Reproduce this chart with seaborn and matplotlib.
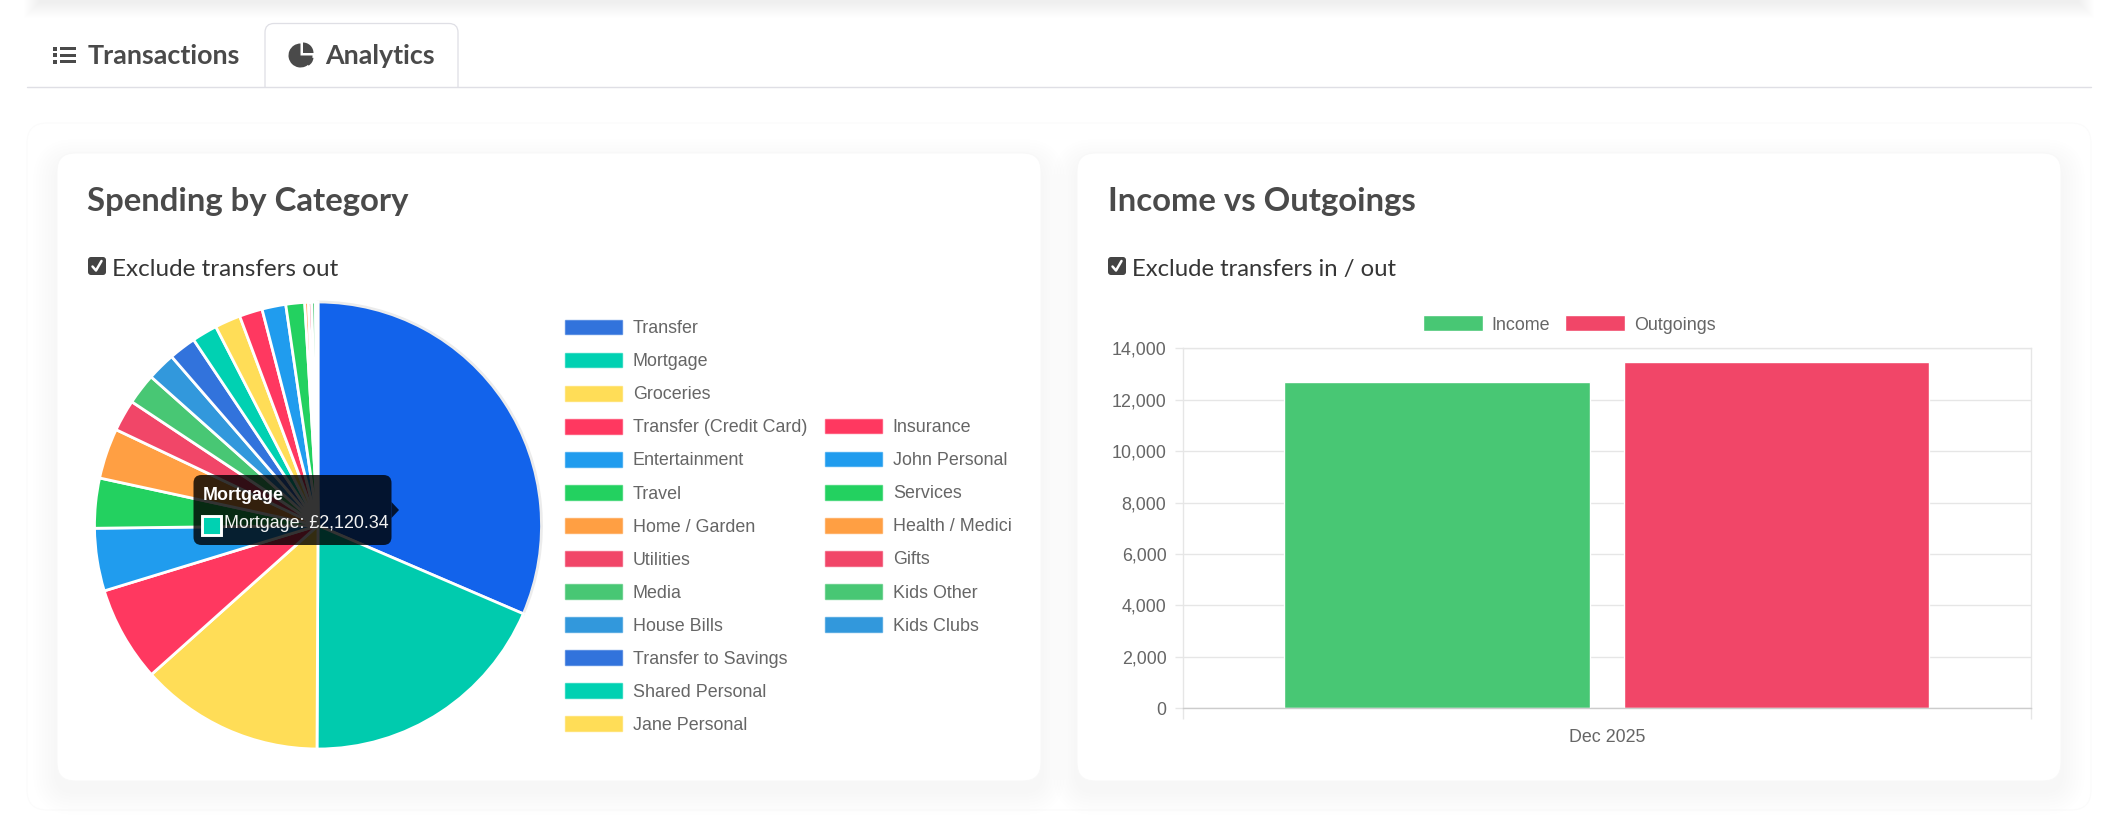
import matplotlib
matplotlib.use("Agg")
import matplotlib.pyplot as plt
import pandas as pd
import seaborn as sns
from matplotlib.colors import to_rgba
from matplotlib.lines import Line2D
from matplotlib.patches import FancyBboxPatch, Patch, Polygon, Rectangle, Wedge

W, H = 2118, 835

# spending slices, in legend order
categories = ["Transfer", "Mortgage", "Groceries", "Transfer (Credit Card)", "Entertainment",
              "Travel", "Home / Garden", "Utilities", "Media", "House Bills",
              "Transfer to Savings", "Shared Personal", "Jane Personal", "Insurance",
              "John Personal", "Services", "Health / Medici", "Gifts", "Kids Other", "Kids Clubs"]
spending = [3585, 2120.34, 1517, 785, 516, 411, 415, 260, 256, 234,
            225, 209, 212, 190, 196, 155, 30, 27, 30, 21]
legend_colors = ["#3273dc", "#00d1b2", "#ffdd57", "#ff3860", "#209cee", "#23d160", "#ff9f43",
                 "#f14668", "#48c774", "#3298dc", "#3273dc", "#00d1b2", "#ffdd57", "#ff3860",
                 "#209cee", "#23d160", "#ff9f43", "#f14668", "#48c774", "#3298dc"]
slice_colors = ["#1263eb", "#00cbae"] + legend_colors[2:]

months = ["Dec 2025"]
income = [12690]
outgoings = [13460]
y_ticks = [0, 2000, 4000, 6000, 8000, 10000, 12000, 14000]

sns.set_style("white")
plt.rcParams["font.family"] = ["Liberation Sans", "DejaVu Sans"]
GREY = "#666666"
DARK = "#4a4a4a"
FS = 12.85
UI_FONT = "Lato"


def rect(x0, y0, x1, y1):
    return [x0 / W, 1 - y1 / H, (x1 - x0) / W, (y1 - y0) / H]


def card(ax, x0, y0, x1, y1, r, shadow, edge):
    # soft box shadow: a stack of faint larger boxes
    for grow in range(24, 0, -3):
        ax.add_patch(FancyBboxPatch((x0 - grow, y0 - grow + 10), x1 - x0 + 2 * grow, y1 - y0 + 2 * grow,
                                    boxstyle=f"round,pad=0,rounding_size={r + grow}",
                                    fc="black", ec="none", alpha=shadow))
    ax.add_patch(FancyBboxPatch((x0, y0), x1 - x0, y1 - y0, boxstyle=f"round,pad=0,rounding_size={r}",
                                fc="white", ec=edge, lw=0.8))


def checkbox(ax, x, y):
    ax.add_patch(FancyBboxPatch((x, y), 18, 18, boxstyle="round,pad=0,rounding_size=3", fc="#444444", ec="none"))
    ax.add_line(Line2D([x + 4.5, x + 8, x + 13.5], [y + 9.5, y + 13.5, y + 4], color="white", lw=1.8))


fig = plt.figure(figsize=(W / 100, H / 100), dpi=100, facecolor="white")

# page furniture in pixel coordinates
bg = fig.add_axes([0, 0, 1, 1], zorder=0)
bg.set_xlim(0, W)
bg.set_ylim(H, 0)
bg.axis("off")

for i in range(16):
    bg.add_patch(Rectangle((24 + i, 0), W - 48 - 2 * i, 18 - i, fc="black", ec="none", alpha=0.002))

bg.add_line(Line2D([27, 2091], [87, 87], color="#dfdfe5", lw=1.0))
bg.add_patch(FancyBboxPatch((265, 23.5), 193, 90, boxstyle="round,pad=0,rounding_size=9",
                            fc="white", ec="#dfdfe5", lw=0.9))
bg.add_patch(Rectangle((263, 87.6), 197, 34, fc="white", ec="none"))

# list icon
for yy in (48.5, 55, 61.5):
    bg.add_patch(Rectangle((53, yy - 2), 4, 4, fc=DARK, ec="none"))
    bg.add_patch(Rectangle((60, yy - 1.5), 16, 3, fc=DARK, ec="none"))
bg.text(88, 55.5, "Transactions", fontsize=19.4, fontweight="bold", family=UI_FONT, color=DARK, va="center")

# pie icon
bg.add_patch(Wedge((300.5, 55.5), 12, 0, 270, fc=DARK, ec="none"))
bg.add_patch(Wedge((303, 53), 10.5, 270, 360, fc=DARK, ec="none"))
bg.add_patch(Wedge((303.5, 57), 10, 5, 60, fc=DARK, ec="none"))
bg.text(325.5, 55.5, "Analytics", fontsize=19.4, fontweight="bold", family=UI_FONT, color=DARK, va="center")

card(bg, 27, 123, 2091, 810, 20, 0.0012, "#fbfbfb")
card(bg, 57, 153, 1041, 781, 18, 0.004, "#f8f8f8")
card(bg, 1077, 153, 2061, 781, 18, 0.004, "#f8f8f8")

bg.text(87, 201, "Spending by Category", fontsize=23.7, fontweight="bold", family=UI_FONT, color=DARK, va="center")
bg.text(1108, 201, "Income vs Outgoings", fontsize=23.7, fontweight="bold", family=UI_FONT, color=DARK, va="center")

checkbox(bg, 88, 257)
bg.text(112.5, 269.5, "Exclude transfers out", fontsize=17.5, family=UI_FONT, color="#363636", va="center")
checkbox(bg, 1108, 257)
bg.text(1132.5, 269.5, "Exclude transfers in / out", fontsize=17.2, family=UI_FONT, color="#363636", va="center")

# pie
half = 226
ax_pie = fig.add_axes(rect(318 - half, 525.5 - half, 318 + half, 525.5 + half), zorder=1)
wedges, _ = ax_pie.pie(spending, colors=slice_colors, startangle=90, counterclock=False, radius=1.0,
                       wedgeprops={"edgecolor": "white", "linewidth": 2.0})
wedges[0].set_edgecolor("#ececec")
ax_pie.set_xlim(-half / 223.5, half / 223.5)
ax_pie.set_ylim(-half / 223.5, half / 223.5)

handles = [Patch(facecolor=c, edgecolor=to_rgba(c, 0.6), linewidth=1, label=n)
           for n, c in zip(categories, legend_colors)]
legend_kw = dict(loc="upper left", frameon=False, fontsize=FS, labelcolor=GREY, borderpad=0, borderaxespad=0,
                 handlelength=3.22, handleheight=0.87, handletextpad=0.58, labelspacing=0.875)
fig.legend(handles=handles[:13], bbox_to_anchor=(565 / W, 1 - 320 / H), **legend_kw)
fig.legend(handles=handles[13:], bbox_to_anchor=(825 / W, 1 - 419 / H), **legend_kw)

# income vs outgoings
df = pd.DataFrame({"month": months * 2, "series": ["Income", "Outgoings"], "amount": income + outgoings})
ax_bar = fig.add_axes(rect(1182.5, 348.3, 2031, 708.3), zorder=1)
sns.barplot(data=df, x="month", y="amount", hue="series", palette=["#48c774", "#f14668"],
            width=0.8, gap=0.1, saturation=1, ax=ax_bar, legend=False)
ax_bar.patch.set_alpha(0)
ax_bar.set_xlim(-0.5, 0.5)
ax_bar.set_ylim(0, 14000)
ax_bar.set_xlabel("")
ax_bar.set_ylabel("")
ax_bar.set_axisbelow(True)
ax_bar.set_yticks(y_ticks)
ax_bar.set_yticklabels([f"{v:,}" for v in y_ticks])
ax_bar.grid(axis="y", color="#e6e6e6", lw=1)
ax_bar.tick_params(axis="y", left=True, length=5.8, width=1, color="#e6e6e6", pad=5.8, labelcolor=GREY, labelsize=FS)
ax_bar.tick_params(axis="x", which="major", bottom=False, pad=11.5, labelcolor=GREY, labelsize=FS)
ax_bar.set_xticks([-0.5, 0.5], minor=True)
ax_bar.tick_params(axis="x", which="minor", bottom=True, length=8, width=1, color="#e6e6e6")
for s in ax_bar.spines.values():
    s.set_color("#e6e6e6")
    s.set_linewidth(1)
ax_bar.spines["bottom"].set_color("#cccccc")

bar_handles = [Patch(facecolor="#48c774", label="Income"), Patch(facecolor="#f14668", label="Outgoings")]
ax_bar.legend(handles=bar_handles, loc="center", bbox_to_anchor=(1569 / W, 1 - 324.5 / H),
              bbox_transform=fig.transFigure, ncol=2, frameon=False, fontsize=FS, labelcolor=GREY,
              borderpad=0, borderaxespad=0, handlelength=3.36, handleheight=1.0, handletextpad=0.5, columnspacing=0.84)

# hover tooltip on top of the pie
top = fig.add_axes([0, 0, 1, 1], zorder=6)
top.set_xlim(0, W)
top.set_ylim(H, 0)
top.axis("off")
top.add_patch(FancyBboxPatch((193.5, 475), 198, 70, boxstyle="round,pad=0,rounding_size=8",
                             fc="black", ec="none", alpha=0.8))
top.add_patch(Polygon([(391.5, 502), (399, 510), (391.5, 518)], fc="black", ec="none", alpha=0.8))
top.text(202.5, 495.5, "Mortgage", color="white", fontsize=FS, fontweight="bold", va="center")
top.add_patch(Rectangle((202, 516), 18.5, 19, fc="#00d1b2", ec="white", lw=2.1))
top.text(224, 523, "Mortgage: £2,120.34", color="#f2f2f2", fontsize=FS, va="center")

fig.savefig("out.png", dpi=100)
